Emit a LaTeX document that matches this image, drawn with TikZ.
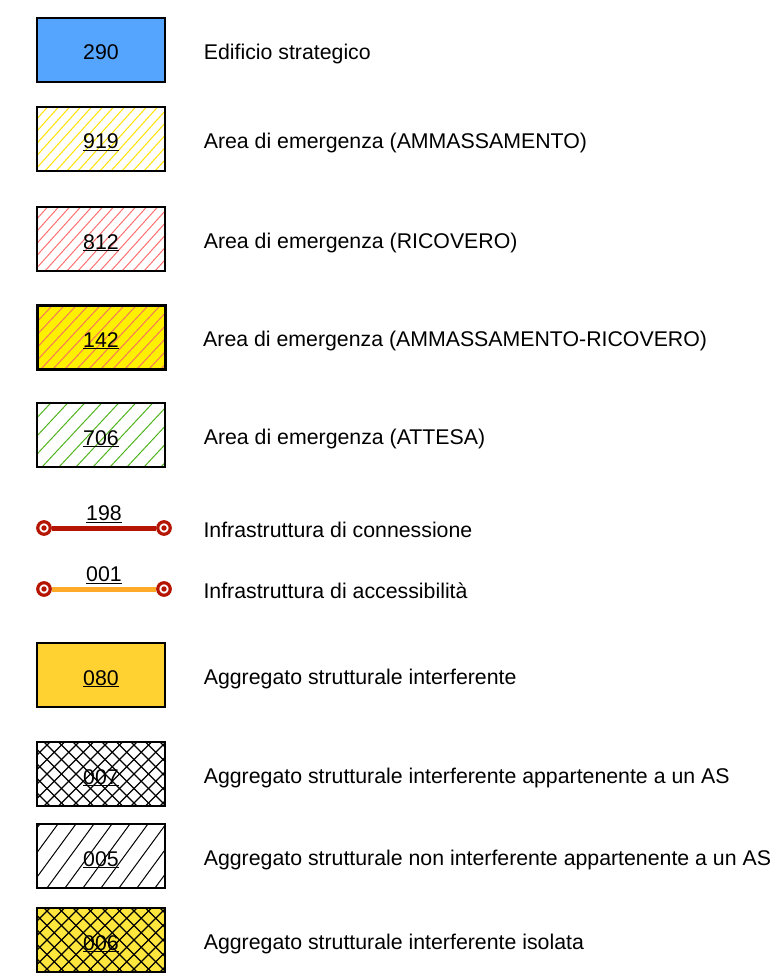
\documentclass[tikz,border=0pt]{standalone}
\usepackage{fontspec}
\setmainfont{Liberation Sans}
\usetikzlibrary{positioning, calc, backgrounds}
\definecolor{stratblue}{RGB}{85,165,255}
\definecolor{ammyellow}{RGB}{255,225,0}
\definecolor{ricred}{RGB}{255,110,110}
\definecolor{mixfill}{RGB}{255,240,0}
\definecolor{mixhatch}{RGB}{245,120,90}
\definecolor{attgreen}{RGB}{80,180,30}
\definecolor{connred}{RGB}{180,20,0}
\definecolor{accorange}{RGB}{255,170,40}
\definecolor{interffill}{RGB}{255,210,50}
\definecolor{isofill}{RGB}{255,230,60}

\begin{document}
\begin{tikzpicture}[
  x=1pt, y=-1pt,
  font=\fontsize{21.3}{25}\selectfont,
  node distance=38pt,
  legbox/.style={rectangle, draw=black, line width=1.3pt, minimum width=128pt, minimum height=64pt, inner sep=0pt, text height=20pt, text depth=0pt},
  hatch/.style n args={3}{path picture={
    \foreach \i in {0,...,30}
      \draw[#1, line width=1pt] ([xshift={(\i*#2-80)*1pt}]path picture bounding box.south west) -- ++(#3pt,90pt);
  }},
  crosshatch/.style 2 args={path picture={
    \foreach \i in {0,...,24} {
      \draw[#1, line width=1.1pt] ([xshift={(\i*#2-80)*1pt}]path picture bounding box.south west) -- ++(90pt,90pt);
      \draw[#1, line width=1.1pt] ([xshift={(\i*#2-80)*1pt}]path picture bounding box.north west) -- ++(90pt,-90pt);
    }
  }},
  leglabel/.style={inner sep=0pt, text height=19pt, text depth=0.5pt},
  stub/.style={circle, draw=connred, line width=3.2pt, fill=white, minimum size=12.5pt, inner sep=0pt,
    path picture={\fill[connred] (path picture bounding box.center) circle (2.7pt);}},
  conn/.style={line width=5pt, draw=#1},
  numlbl/.style={above=3pt, inner sep=0pt}
]
\useasboundingbox (0,0) rectangle (773,976);

% Strategic building and emergency areas
\node[legbox, fill=stratblue] (strat) at (101,50) {290};
\node[leglabel, right=of strat] (strat-l) {Edificio strategico};

\node[legbox, hatch={ammyellow}{11}{81}] (amm) at (101,139) {\underline{919}};
\node[leglabel, right=of amm] (amm-l) {Area di emergenza (AMMASSAMENTO)};

\node[legbox, hatch={ricred}{11}{81}] (ric) at (101,239) {\underline{812}};
\node[leglabel, right=of ric] (ric-l) {Area di emergenza (RICOVERO)};

\node[legbox, fill=mixfill, line width=3pt, hatch={mixhatch}{12}{84}] (mix) at (101,337) {\underline{142}};
\node[leglabel, right=36.5pt of mix] (mix-l) {Area di emergenza (AMMASSAMENTO-RICOVERO)};

\node[legbox, hatch={attgreen}{17}{84}] (att) at (101,435) {\underline{706}};
\node[leglabel, right=of att] (att-l) {Area di emergenza (ATTESA)};

% Infrastructures
\node[stub] (conn-a) at (44,528) {};
\node[stub] (conn-b) at (164,528) {};
\node[leglabel, right=31.5pt of conn-b] (conn-l) {Infrastruttura di connessione};

\node[stub] (acc-a) at (44,589) {};
\node[stub] (acc-b) at (164,589) {};
\node[leglabel, right=31.5pt of acc-b] (acc-l) {Infrastruttura di accessibilità};

\begin{scope}[on background layer]
  \draw[conn=connred] (conn-a) -- node[numlbl] {\underline{198}} (conn-b);
  \draw[conn=accorange] (acc-a) -- node[numlbl] {\underline{001}} (acc-b);
\end{scope}

% Structural aggregates
\node[legbox, fill=interffill] (intf) at (101,675) {\underline{080}};
\node[leglabel, right=of intf] (intf-l) {Aggregato strutturale interferente};

\node[legbox, crosshatch={black}{14.5}] (intas) at (101,774) {\underline{007}};
\node[leglabel, right=of intas] (intas-l) {Aggregato strutturale interferente appartenente a un AS};

\node[legbox, hatch={black}{18}{66}] (nonint) at (101,856) {\underline{005}};
\node[leglabel, right=of nonint] (nonint-l) {Aggregato strutturale non interferente appartenente a un AS};

\node[legbox, fill=isofill, crosshatch={black}{14.5}] (iso) at (101,940) {\underline{006}};
\node[leglabel, right=of iso] (iso-l) {Aggregato strutturale interferente isolata};

\end{tikzpicture}
\end{document}
